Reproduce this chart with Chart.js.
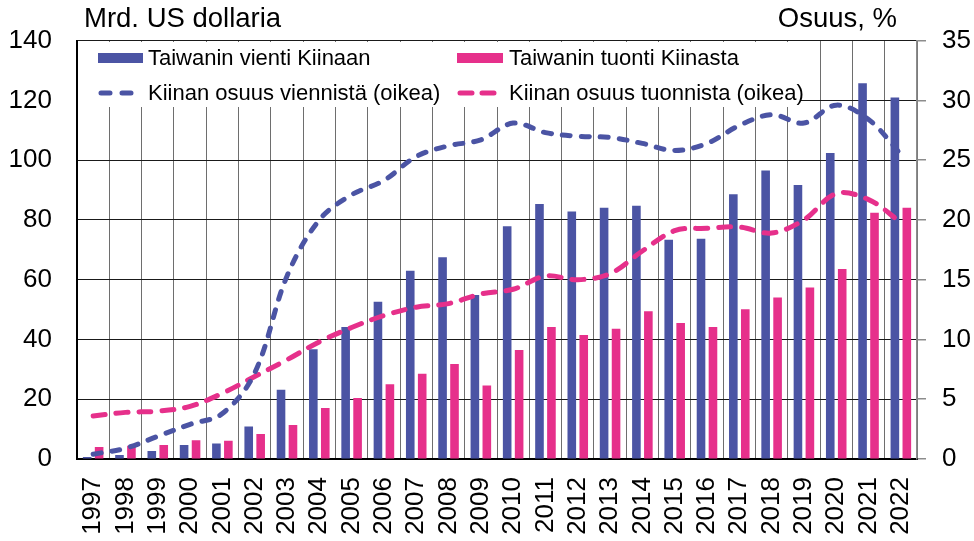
<!DOCTYPE html>
<html lang="fi">
<head>
<meta charset="utf-8">
<title>Taiwanin kauppa Kiinan kanssa</title>
<script src="https://cdn.jsdelivr.net/npm/chart.js@4.4.1/dist/chart.umd.min.js"></script>
<style>
  html, body { margin: 0; padding: 0; background: #fff; }
  #wrap { width: 974px; height: 541px; }
</style>
</head>
<body>
<div id="wrap"><canvas id="tradeChart" width="974" height="541"></canvas></div>
<script>
// ==========================
// DATA
// ==========================
const years = [
  "1997", "1998", "1999", "2000", "2001", "2002", "2003", "2004", "2005",
  "2006", "2007", "2008", "2009", "2010", "2011", "2012", "2013", "2014",
  "2015", "2016", "2017", "2018", "2019", "2020", "2021", "2022",
];

// Mrd. US dollaria (vasen akseli)
const exportsToChina = [
  0.7, 1.3, 2.7, 4.7, 5.2, 10.9, 23.2, 36.7, 44.2, 52.6, 63.0, 67.5, 54.9,
  77.9, 85.3, 82.8, 84.1, 84.7, 73.4, 73.7, 88.6, 96.5, 91.7, 102.4, 125.7, 121.0,
];
const importsFromChina = [
  4.0, 4.4, 4.7, 6.3, 6.1, 8.4, 11.4, 17.1, 20.4, 25.0, 28.5, 31.8, 24.6,
  36.5, 44.2, 41.5, 43.6, 49.4, 45.5, 44.2, 50.1, 54.0, 57.4, 63.6, 82.4, 84.1,
];

// Osuus, % (oikea akseli)
const exportShare = [
  0.4, 0.9, 1.9, 2.9, 3.8, 7.2, 15.3, 20.0, 22.1, 23.3, 25.3, 26.2, 26.7,
  28.1, 27.3, 27.0, 26.9, 26.4, 25.8, 26.4, 27.9, 28.8, 28.1, 29.6, 28.4, 25.5,
];
const importShare = [
  3.6, 3.9, 4.0, 4.4, 5.5, 6.9, 8.3, 9.8, 11.0, 12.0, 12.7, 13.0, 13.8,
  14.2, 15.3, 15.0, 15.5, 17.4, 19.1, 19.3, 19.4, 18.9, 20.0, 22.2, 21.7, 19.8,
];

const leftTicks = [0, 20, 40, 60, 80, 100, 120, 140];
const rightTicks = [0, 5, 10, 15, 20, 25, 30, 35];

const seriesLabels = [
  "Taiwanin vienti Kiinaan",
  "Taiwanin tuonti Kiinasta",
  "Kiinan osuus viennistä (oikea)",
  "Kiinan osuus tuonnista (oikea)",
];

const BLUE = "#4b54a4";
const PINK = "#e6308b";
const FONT = "'Liberation Sans', Arial, sans-serif";

/* =======================================================
   PLUGIN : otsikot + legenda kuvan sisällä
======================================================= */
const annotationsPlugin = {
  id: "annotations",
  beforeDatasetsDraw(chart) {
    const ctx = chart.ctx;
    const area = chart.chartArea;
    ctx.save();

    // valkoinen tausta legendalle (peittää ruudukon)
    ctx.fillStyle = "#fff";
    ctx.fillRect(area.left + 1, 42, 722, 65);

    ctx.font = `22px ${FONT}`;
    ctx.textBaseline = "alphabetic";
    ctx.textAlign = "left";

    const cols = [98, 457];
    const rows = [65, 100];

    // palkit
    ctx.fillStyle = BLUE;
    ctx.fillRect(cols[0], 53, 45, 10);
    ctx.fillStyle = PINK;
    ctx.fillRect(cols[1], 53, 46, 10);

    // katkoviivat
    ctx.lineWidth = 5;
    ctx.lineCap = "round";
    ctx.strokeStyle = BLUE;
    ctx.setLineDash([9, 12]);
    ctx.beginPath();
    ctx.moveTo(cols[0] + 3, 93);
    ctx.lineTo(cols[0] + 44, 93);
    ctx.stroke();
    ctx.strokeStyle = PINK;
    ctx.setLineDash([12, 10]);
    ctx.beginPath();
    ctx.moveTo(cols[1] + 3, 93);
    ctx.lineTo(cols[1] + 44, 93);
    ctx.stroke();
    ctx.setLineDash([]);

    ctx.fillStyle = "#000";
    ctx.fillText(seriesLabels[0], cols[0] + 50, rows[0]);
    ctx.fillText(seriesLabels[1], cols[1] + 52, rows[0]);
    ctx.fillText(seriesLabels[2], cols[0] + 50, rows[1]);
    ctx.fillText(seriesLabels[3], cols[1] + 52, rows[1]);

    ctx.restore();
  },
  afterDraw(chart) {
    const ctx = chart.ctx;
    ctx.save();
    ctx.font = `27.5px ${FONT}`;
    ctx.fillStyle = "#000";
    ctx.textBaseline = "alphabetic";
    ctx.textAlign = "left";
    ctx.fillText("Mrd. US dollaria", 84, 27);
    ctx.textAlign = "right";
    ctx.fillText("Osuus, %", 897, 27);
    ctx.restore();
  },
};

/* =======================================================
   CHART
======================================================= */
function buildChart() {
  const ctx = document.getElementById("tradeChart").getContext("2d");

  return new Chart(ctx, {
    type: "bar",
    data: {
      labels: years,
      datasets: [
        {
          type: "line",
          label: seriesLabels[2],
          data: exportShare,
          yAxisID: "y1",
          borderColor: BLUE,
          borderWidth: 5,
          borderDash: [8, 11],
          borderCapStyle: "round",
          pointRadius: 0,
          tension: 0.35,
          fill: false,
        },
        {
          type: "line",
          label: seriesLabels[3],
          data: importShare,
          yAxisID: "y1",
          borderColor: PINK,
          borderWidth: 5,
          borderDash: [12, 11],
          borderCapStyle: "round",
          pointRadius: 0,
          tension: 0.35,
          fill: false,
        },
        {
          label: seriesLabels[0],
          data: exportsToChina,
          yAxisID: "y",
          backgroundColor: BLUE,
          categoryPercentage: 0.74,
          barPercentage: 0.72,
        },
        {
          label: seriesLabels[1],
          data: importsFromChina,
          yAxisID: "y",
          backgroundColor: PINK,
          categoryPercentage: 0.74,
          barPercentage: 0.72,
        },
      ],
    },
    options: {
      responsive: false,
      devicePixelRatio: 1,
      animation: false,
      layout: { padding: { top: 32, left: 0, right: 0, bottom: 0 } },
      plugins: {
        legend: { display: false },
        tooltip: { enabled: false },
      },
      scales: {
        x: {
          offset: true,
          grid: {
            offset: true,
            color: "#6e6e6e",
            lineWidth: 1,
            drawTicks: false,
          },
          border: { color: "#000", width: 2 },
          ticks: {
            autoSkip: false,
            minRotation: 90,
            maxRotation: 90,
            padding: 18,
            color: "#000",
            font: { family: FONT, size: 26 },
          },
          afterFit: (scale) => {
            scale.height = 82;
          },
        },
        y: {
          position: "left",
          min: 0,
          max: 140,
          afterBuildTicks: (scale) => {
            scale.ticks = leftTicks.map((v) => ({ value: v }));
          },
          grid: { color: "#1a1a1a", lineWidth: 1, drawTicks: false },
          border: { color: "#000", width: 2 },
          ticks: {
            padding: 25,
            color: "#000",
            font: { family: FONT, size: 26 },
          },
          afterFit: (scale) => {
            scale.width = 77;
          },
        },
        y1: {
          position: "right",
          min: 0,
          max: 35,
          afterBuildTicks: (scale) => {
            scale.ticks = rightTicks.map((v) => ({ value: v }));
          },
          grid: {
            drawOnChartArea: false,
            color: "#8c8c8c",
            tickLength: 9,
            lineWidth: 1.5,
          },
          border: { color: "#8c8c8c", width: 1.5 },
          ticks: {
            padding: 16,
            color: "#000",
            font: { family: FONT, size: 26 },
          },
          afterFit: (scale) => {
            scale.width = 57;
          },
        },
      },
    },
    plugins: [annotationsPlugin],
  });
}

buildChart();
</script>
</body>
</html>
